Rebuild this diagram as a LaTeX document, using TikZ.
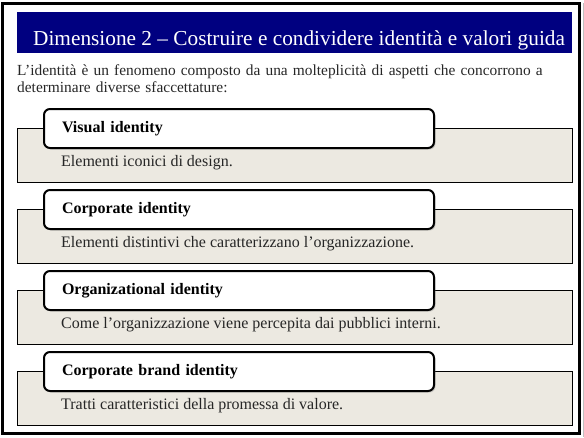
\documentclass[tikz,border=0pt]{standalone}
\usepackage{fontspec}
\setmainfont{Liberation Serif}
\usetikzlibrary{positioning, shadows}
\definecolor{titlebar}{RGB}{0,0,128}
\definecolor{panelfill}{RGB}{236,233,225}

\begin{document}
\begin{tikzpicture}[x=1pt, y=-1pt,
  panelbox/.style={draw, line width=1.2pt, fill=panelfill, anchor=north west,
    minimum width=555pt, minimum height=54pt, inner sep=0pt},
  tabbox/.style={draw, line width=2pt, fill=white, rounded corners=6pt,
    anchor=north west, minimum width=390pt, minimum height=39pt,
    text width=354pt, inner xsep=18pt, inner ysep=0pt, align=left,
    font=\fontsize{16}{18}\selectfont\bfseries,
    drop shadow={shadow xshift=1.5pt, shadow yshift=-1.5pt, opacity=0.35}},
  desctext/.style={anchor=base west, inner sep=0pt,
    font=\fontsize{16}{18}\selectfont, text=black!85}]
  \useasboundingbox (0,0) rectangle (584,437);

  % Cornice della slide
  \draw[line width=2.4pt] (2.5,3.5) rectangle (579.5,433.5);
  \draw[black!25, line width=1pt] (583,3) -- (583,437);

  % Titolo
  \node[fill=titlebar, anchor=north west, minimum width=555pt,
    minimum height=41pt, inner sep=0pt] (bar) at (17,12) {};
  \node[anchor=base west, inner sep=0pt, text=white,
    font=\fontsize{21.3}{23}\selectfont] (title) at (33,45)
    {Dimensione 2 – Costruire e condividere identità e valori guida};

  % Testo introduttivo
  \node[anchor=base west, inner sep=0pt, text width=560pt, align=left,
    text=black!85, font=\fontsize{15.4}{17}\selectfont] (intro) at (17,75)
    {L’identità è un fenomeno composto da una molteplicità di aspetti che concorrono a\\
     determinare diverse sfaccettature:};

  % Le quattro identità: pannello, linguetta e descrizione
  \foreach \tabtxt/\desc [count=\i] in {
      Visual identity/Elementi iconici di design.,
      Corporate identity/Elementi distintivi che caratterizzano l’organizzazione.,
      Organizational identity/Come l’organizzazione viene percepita dai pubblici interni.,
      Corporate brand identity/Tratti caratteristici della promessa di valore.} {
    \pgfmathsetmacro\ytop{128+81*(\i-1)}
    \node[panelbox] (p\i) at (17,\ytop) {};
    \node[tabbox] (t\i) at (43,\ytop-20) {\tabtxt};
    \node[desctext] (d\i) at (61,\ytop+38) {\desc};
  }
\end{tikzpicture}
\end{document}
